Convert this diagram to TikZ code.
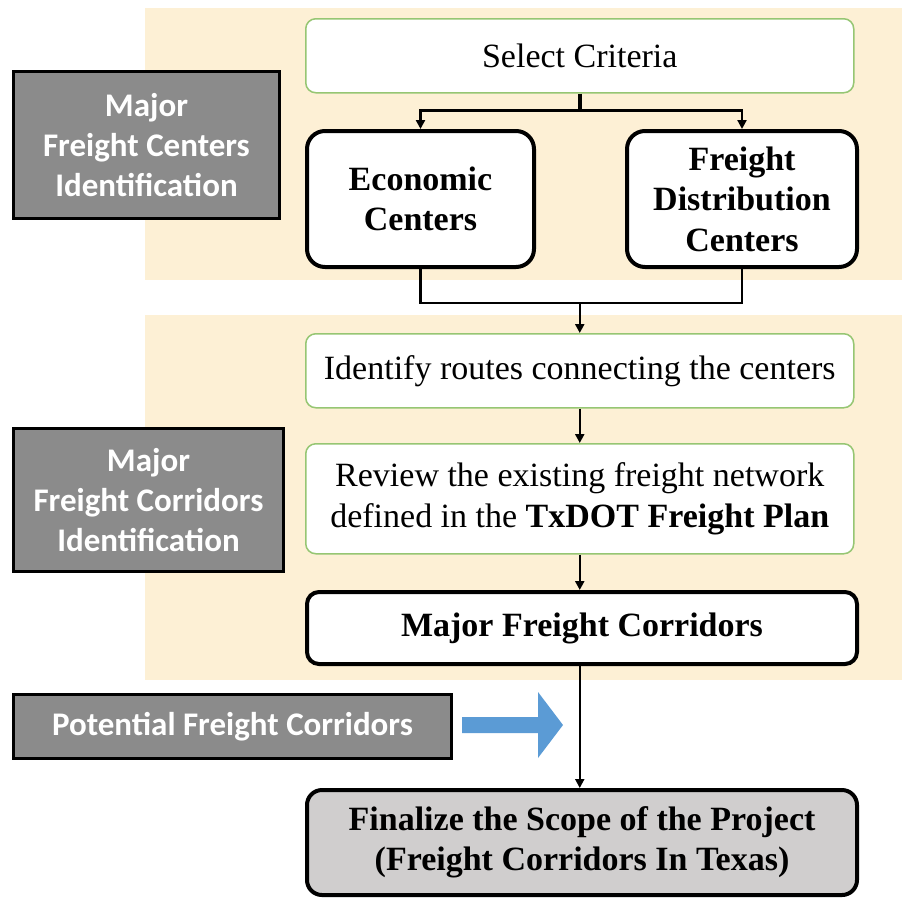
\documentclass[tikz,border=0pt]{standalone}
\usepackage{fontspec}
\setmainfont{Liberation Serif}
\newfontfamily\calibrifont{Carlito}
\usetikzlibrary{arrows.meta}
\definecolor{beige}{RGB}{253,240,213}
\definecolor{leaf}{RGB}{150,198,115}
\definecolor{grayfill}{RGB}{139,139,139}
\definecolor{finalfill}{RGB}{208,206,206}
\definecolor{bluearrow}{RGB}{91,155,213}
\tikzset{
  box/.style={draw, anchor=north west, inner sep=0pt, align=center, fill=white,
    font=\fontsize{34}{40.5}\selectfont},
  greenbox/.style={box, draw=leaf, line width=1.5pt, rounded corners=10pt},
  blackbox/.style={box, line width=4pt, rounded corners=18pt,
    font=\fontsize{34}{40.5}\selectfont\bfseries},
  graybox/.style={draw, anchor=north west, inner sep=0pt, align=center, fill=grayfill,
    line width=3pt, text=white, font=\calibrifont\fontsize{33}{40}\selectfont\bfseries},
  link/.style={line width=2.5pt},
  arr/.style={link, -{Triangle[length=9pt,width=9pt]}},
}
\begin{document}
\begin{tikzpicture}[x=1pt,y=-1pt]
\useasboundingbox (0,0) rectangle (902,898);
% background bands
\fill[beige] (145,8) rectangle (902,280);
\fill[beige] (145,315) rectangle (902,680);
% left gray labels
\node[graybox, minimum width=266pt, minimum height=147pt] (g1) at (12,70) {Major\\Freight Centers\\Identification};
\node[graybox, minimum width=270pt, minimum height=143pt] (g2) at (12,427) {Major\\Freight Corridors\\Identification};
\node[graybox, minimum width=438pt, minimum height=64pt] (g3) at (12,693) {Potential Freight Corridors};
% flow boxes
\node[greenbox, minimum width=548pt, minimum height=74pt] (sel) at (305,18) {Select Criteria};
\node[blackbox, minimum width=227pt, minimum height=136pt] (econ) at (305,129) {Economic\\Centers};
\node[blackbox, minimum width=230pt, minimum height=136pt] (fdc) at (625,129) {Freight\\Distribution\\Centers};
\node[greenbox, minimum width=548pt, minimum height=74pt] (ident) at (305,333) {Identify routes connecting the centers};
\node[greenbox, minimum width=548pt, minimum height=110pt] (review) at (305,443) {Review the existing freight network\\defined in the \textbf{TxDOT Freight Plan}};
\node[blackbox, rounded corners=12pt, minimum width=550pt, minimum height=72pt] (mfc) at (305,590) {Major Freight Corridors};
\node[blackbox, rounded corners=15pt, fill=finalfill, minimum width=550pt, minimum height=105pt] (final) at (305,788) {Finalize the Scope of the Project\\(Freight Corridors In Texas)};
% connectors
\path (sel.south) ++(0,17) coordinate (j1);
\draw[link, line width=3.5pt] (sel.south) -- (j1);
\draw[arr] (j1) -| (econ.north);
\draw[arr] (j1) -| (fdc.north);
\path (sel.south |- econ.south) ++(0,34) coordinate (j2);
\draw[link] (econ.south) |- (j2) -| (fdc.south);
\draw[arr] (j2) -- (ident.north);
\draw[arr] (ident.south) -- (review.north);
\draw[arr] (review.south) -- (review.south |- mfc.north);
\draw[arr, line width=2pt] (review.south |- mfc.south) -- (review.south |- final.north);
% blue arrow
\fill[bluearrow] (462,717) -- (538,717) -- (538,692) -- (563,725) -- (538,758) -- (538,733) -- (462,733) -- cycle;
\end{tikzpicture}
\end{document}
